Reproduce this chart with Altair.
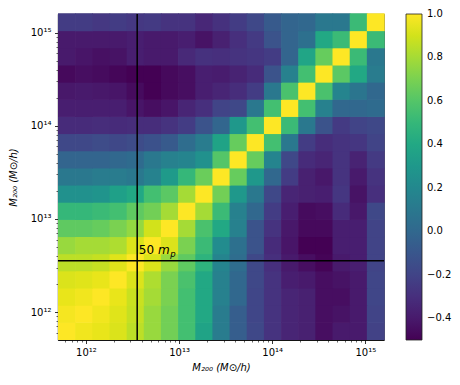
import altair as alt
import pandas as pd

# log10 of the mass-bin edges (M200 in Msun/h), 19 bins
edges_log10 = [11.700, 11.884, 12.068, 12.253, 12.437, 12.621, 12.805, 12.989, 13.174, 13.358,
               13.542, 13.726, 13.911, 14.095, 14.279, 14.463, 14.647, 14.832, 15.016, 15.200]

# correlation matrix rows, from lowest-mass (bottom) to highest-mass (top)
row_00 = [1.00, 0.97, 0.95, 0.92, 0.85, 0.77, 0.68, 0.55, 0.37, 0.12, -0.06, -0.18, -0.28, -0.35, -0.37, -0.45, -0.40, -0.40, -0.21]
row_01 = [0.98, 1.00, 0.97, 0.93, 0.87, 0.77, 0.68, 0.55, 0.40, 0.12, -0.06, -0.19, -0.28, -0.35, -0.37, -0.45, -0.43, -0.40, -0.20]
row_02 = [0.95, 0.97, 1.00, 0.95, 0.88, 0.80, 0.70, 0.55, 0.40, 0.15, 0.00, -0.19, -0.28, -0.35, -0.37, -0.45, -0.45, -0.40, -0.19]
row_03 = [0.92, 0.93, 0.95, 1.00, 0.92, 0.82, 0.70, 0.57, 0.40, 0.15, 0.00, -0.18, -0.28, -0.38, -0.40, -0.45, -0.43, -0.40, -0.19]
row_04 = [0.85, 0.85, 0.87, 0.93, 1.00, 0.92, 0.77, 0.63, 0.47, 0.17, 0.03, -0.18, -0.30, -0.40, -0.45, -0.49, -0.40, -0.38, -0.20]
row_05 = [0.77, 0.80, 0.80, 0.82, 0.92, 1.00, 0.92, 0.70, 0.52, 0.22, 0.05, -0.12, -0.32, -0.42, -0.50, -0.50, -0.38, -0.38, -0.20]
row_06 = [0.63, 0.63, 0.65, 0.70, 0.76, 0.90, 1.00, 0.80, 0.57, 0.40, 0.15, -0.12, -0.28, -0.41, -0.47, -0.47, -0.38, -0.38, -0.20]
row_07 = [0.50, 0.50, 0.52, 0.55, 0.63, 0.68, 0.80, 1.00, 0.80, 0.52, 0.15, 0.00, -0.24, -0.38, -0.46, -0.45, -0.32, -0.41, -0.18]
row_08 = [0.25, 0.25, 0.27, 0.35, 0.40, 0.55, 0.62, 0.80, 1.00, 0.68, 0.30, 0.10, -0.18, -0.35, -0.37, -0.38, -0.27, -0.43, -0.30]
row_09 = [0.10, 0.10, 0.12, 0.12, 0.10, 0.16, 0.31, 0.50, 0.66, 1.00, 0.65, 0.30, 0.00, -0.24, -0.37, -0.41, -0.28, -0.40, -0.28]
row_10 = [-0.02, -0.02, -0.02, 0.00, 0.02, 0.10, 0.15, 0.17, 0.25, 0.60, 1.00, 0.65, 0.17, -0.18, -0.32, -0.35, -0.28, -0.36, -0.25]
row_11 = [-0.18, -0.18, -0.16, -0.18, -0.16, -0.13, -0.08, 0.03, 0.12, 0.37, 0.65, 1.00, 0.55, 0.10, -0.24, -0.31, -0.28, -0.27, -0.20]
row_12 = [-0.32, -0.32, -0.31, -0.32, -0.31, -0.31, -0.28, -0.24, -0.12, -0.01, 0.30, 0.55, 1.00, 0.52, 0.10, -0.12, -0.25, -0.20, -0.18]
row_13 = [-0.38, -0.38, -0.38, -0.38, -0.42, -0.45, -0.42, -0.35, -0.30, -0.20, -0.18, 0.10, 0.55, 1.00, 0.55, 0.15, 0.00, 0.00, 0.02]
row_14 = [-0.41, -0.40, -0.41, -0.42, -0.46, -0.50, -0.47, -0.45, -0.38, -0.35, -0.31, -0.24, 0.10, 0.57, 1.00, 0.57, 0.17, 0.08, 0.00]
row_15 = [-0.47, -0.45, -0.46, -0.48, -0.50, -0.50, -0.47, -0.45, -0.38, -0.39, -0.36, -0.32, -0.12, 0.15, 0.55, 1.00, 0.62, 0.40, 0.12]
row_16 = [-0.40, -0.42, -0.44, -0.43, -0.38, -0.40, -0.40, -0.33, -0.29, -0.30, -0.28, -0.27, -0.24, -0.02, 0.38, 0.65, 1.00, 0.52, 0.10]
row_17 = [-0.40, -0.40, -0.40, -0.40, -0.38, -0.40, -0.40, -0.38, -0.43, -0.37, -0.30, -0.25, -0.12, -0.02, 0.05, 0.40, 0.52, 1.00, 0.52]
row_18 = [-0.24, -0.24, -0.26, -0.24, -0.26, -0.25, -0.28, -0.28, -0.34, -0.29, -0.24, -0.18, -0.08, -0.02, 0.00, 0.10, 0.10, 0.52, 1.00]

rows = [row_00, row_01, row_02, row_03, row_04, row_05, row_06, row_07, row_08, row_09,
        row_10, row_11, row_12, row_13, row_14, row_15, row_16, row_17, row_18]

mass_50mp = 3.55e12
major_ticks = [1e12, 1e13, 1e14, 1e15]
major_labels = ["10¹²", "10¹³", "10¹⁴", "10¹⁵"]
minor_ticks = [6e11, 7e11, 8e11, 9e11,
               2e12, 3e12, 4e12, 5e12, 6e12, 7e12, 8e12, 9e12,
               2e13, 3e13, 4e13, 5e13, 6e13, 7e13, 8e13, 9e13,
               2e14, 3e14, 4e14, 5e14, 6e14, 7e14, 8e14, 9e14]
cbar_ticks = [-0.4, -0.2, 0.0, 0.2, 0.4, 0.6, 0.8, 1.0]

edges = [10 ** e for e in edges_log10]
records = []
for i, row in enumerate(rows):
    for j, v in enumerate(row):
        records.append({"x_lo": edges[j], "x_hi": edges[j + 1],
                        "y_lo": edges[i], "y_hi": edges[i + 1], "v": v})
df = pd.DataFrame(records)
line_df = pd.DataFrame({"m": [mass_50mp]})

FONT = "DejaVu Sans"
dom = [edges[0], edges[-1]]
xscale = alt.Scale(type="log", domain=dom, nice=False)
yscale = alt.Scale(type="log", domain=dom, nice=False)
cscale = alt.Scale(scheme="viridis", domain=[-0.5, 1.0001])

label_expr = " : ".join(f"datum.value == {v:g} ? '{s}'" for v, s in zip(major_ticks, major_labels)) + " : ''"
major_test = " || ".join(f"datum.value == {v:g}" for v in major_ticks)
all_ticks = sorted(major_ticks + minor_ticks)
title_txt = "M₂₀₀ (M⊙/h)"


def make_axis(title_pad):
    return alt.Axis(
        values=all_ticks, labelExpr=label_expr, grid=False,
        tickSize={"condition": {"test": major_test, "value": 3.5}, "value": 2},
        tickWidth={"condition": {"test": major_test, "value": 0.8}, "value": 0.6},
        tickColor="black", domainColor="black", domainWidth=0.8,
        labelFont=FONT, labelFontSize=10, labelColor="black", labelPadding=3.5,
        labelFlush=False, labelOverlap=False,
        title=title_txt, titleFont=FONT, titleFontSize=10, titleFontWeight="normal",
        titleFontStyle="italic", titleColor="black", titlePadding=title_pad,
    )


heat = alt.Chart(df).mark_rect(strokeWidth=0, x2Offset=0.7, y2Offset=-0.7).encode(
    x=alt.X("x_lo:Q", scale=xscale, axis=make_axis(5)),
    x2="x_hi:Q",
    y=alt.Y("y_lo:Q", scale=yscale, axis=make_axis(12)),
    y2="y_hi:Q",
    color=alt.Color("v:Q", scale=cscale, title=None,
                    legend=alt.Legend(type="gradient", orient="right", direction="vertical",
                                      offset=22, padding=0,
                                      gradientLength=326, gradientThickness=16,
                                      gradientStrokeColor="#222222", gradientStrokeWidth=0.8,
                                      values=cbar_ticks, format=".1f",
                                      labelExpr="replace(datum.label, '-', '−')",
                                      labelFont=FONT, labelFontSize=10, labelColor="black",
                                      labelOffset=5, labelOverlap=False)),
)

vline = alt.Chart(line_df).mark_rule(color="black", strokeWidth=1.5).encode(
    x=alt.X("m:Q", scale=xscale))
hline = alt.Chart(line_df).mark_rule(color="black", strokeWidth=1.5).encode(
    y=alt.Y("m:Q", scale=yscale))

txt_50 = alt.Chart(line_df).mark_text(
    text="50", align="left", baseline="alphabetic", dx=1.6, dy=-6.5,
    font=FONT, fontSize=12, color="black").encode(
    x=alt.X("m:Q", scale=xscale), y=alt.Y("m:Q", scale=yscale))
txt_m = alt.Chart(line_df).mark_text(
    text="m", align="left", baseline="alphabetic", dx=20.7, dy=-6.5,
    font=FONT, fontSize=12, fontStyle="italic", color="black").encode(
    x=alt.X("m:Q", scale=xscale), y=alt.Y("m:Q", scale=yscale))
txt_p = alt.Chart(line_df).mark_text(
    text="p", align="left", baseline="alphabetic", dx=33.0, dy=-4.3,
    font=FONT, fontSize=8.5, fontStyle="italic", color="black").encode(
    x=alt.X("m:Q", scale=xscale), y=alt.Y("m:Q", scale=yscale))

chart = alt.layer(heat, vline, hline, txt_50, txt_m, txt_p).properties(
    width=326, height=326,
    padding={"left": 50, "top": 6, "right": 68, "bottom": 37},
    autosize=alt.AutoSizeParams(type="none"),
).configure_view(stroke="black", strokeWidth=0.8)

chart.save("out.html", embed_options={"renderer": "svg", "actions": False})
